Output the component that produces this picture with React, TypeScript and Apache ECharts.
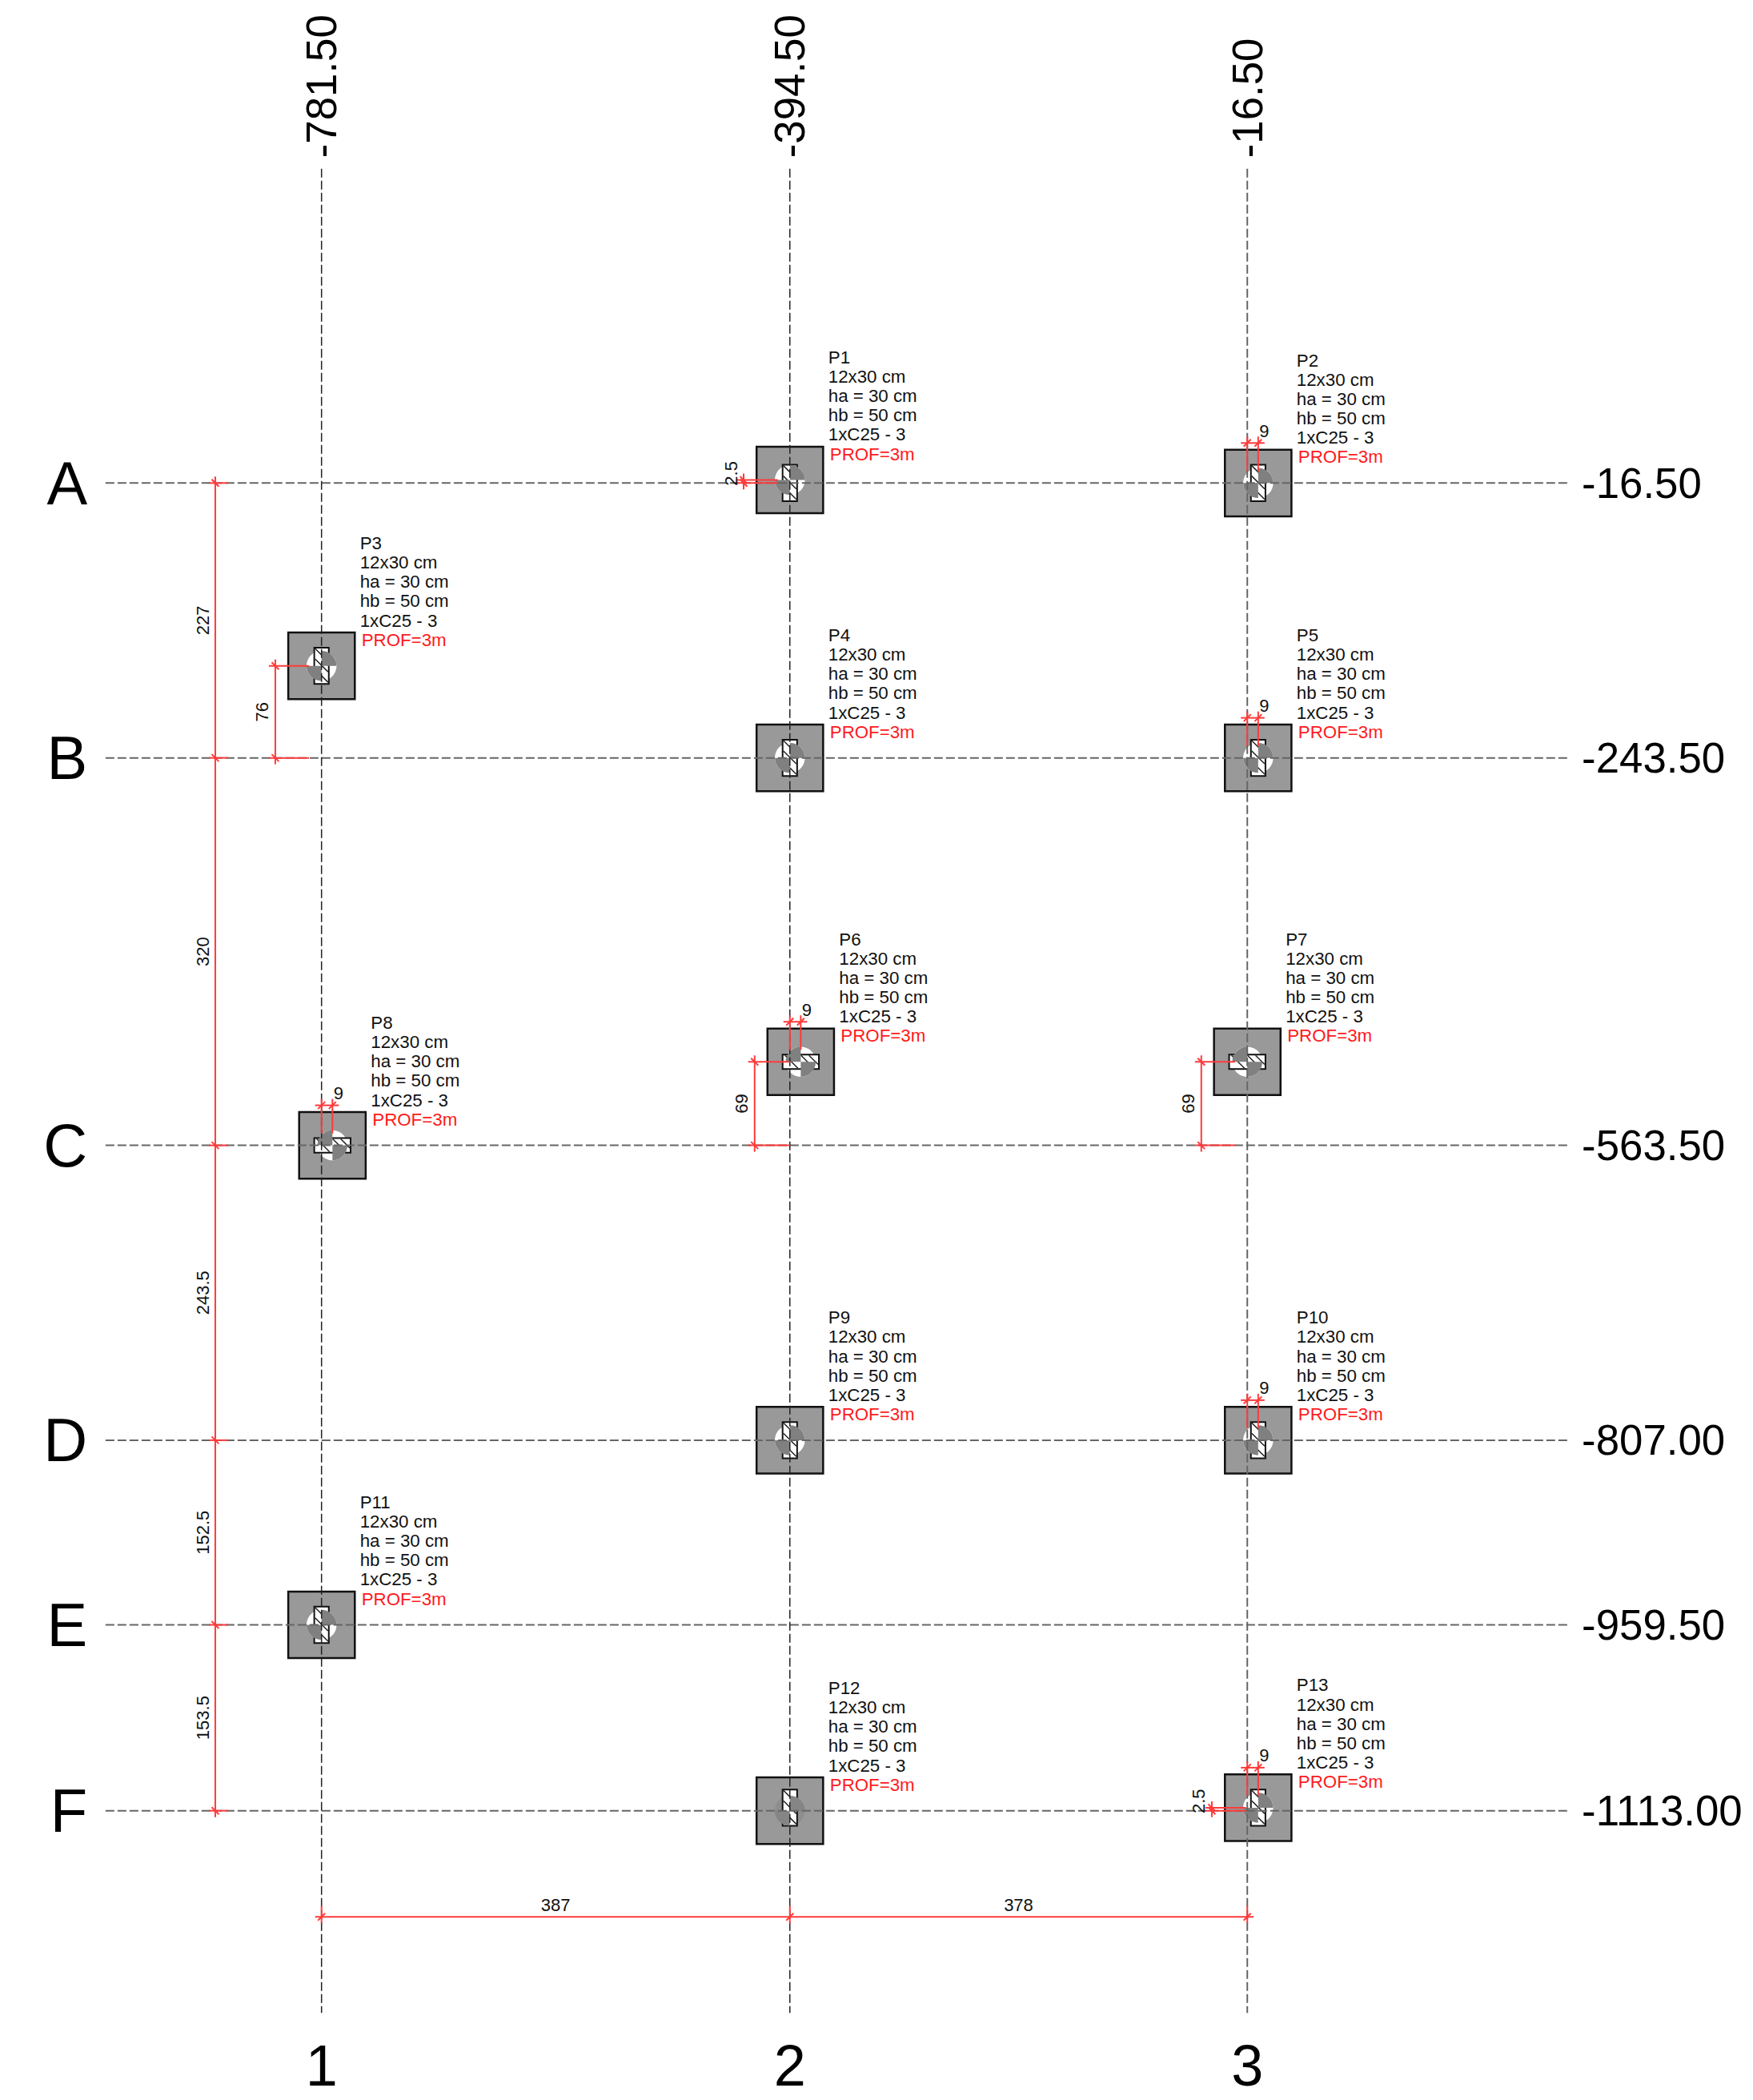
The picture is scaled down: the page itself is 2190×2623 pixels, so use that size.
import React, { useEffect, useRef } from "react";
import * as echarts from "echarts";

// Plan axes (cm)
const xMin = -1047.2, xMax = 401.4, yMin = -1351.9, yMax = 382.4;
const gridXValues = [-781.5, -394.5, -16.5];
const gridYValues = [-16.5, -243.5, -563.5, -807, -959.5, -1113];
const columnNames = ["1", "2", "3"];
const rowNames = ["A", "B", "C", "D", "E", "F"];
const topLabels = ["-781.50", "-394.50", "-16.50"];
const rightLabels = ["-16.50", "-243.50", "-563.50", "-807.00", "-959.50", "-1113.00"];
const lineXFrom = -960, lineXTo = 249.3, lineYFrom = 243, lineYTo = -1280;

// Footings
const footNames = ["P1", "P2", "P3", "P4", "P5", "P6", "P7", "P8", "P9", "P10", "P11", "P12", "P13"];
const footX = [-394.5, -7.5, -781.5, -394.5, -7.5, -385.5, -16.5, -772.5, -394.5, -7.5, -781.5, -394.5, -7.5];
const footY = [-14, -16.5, -167.5, -243.5, -243.5, -494.5, -494.5, -563.5, -807, -807, -959.5, -1113, -1110.5];
const colY = [-16.5, -16.5, -167.5, -243.5, -243.5, -494.5, -494.5, -563.5, -807, -807, -959.5, -1110.5, -1110.5];
const horizontalCol = [false, false, false, false, false, true, true, true, false, false, false, false, false];
const filledCircle = [false, false, false, false, false, false, false, false, false, false, false, true, false];
const footSize = 55, colShort = 12, colLong = 30, holeRadius = 12.4;
const noteLines = ["12x30 cm", "ha = 30 cm", "hb = 50 cm", "1xC25 - 3"];
const noteDepth = "PROF=3m";

// Dimension chains
const chainX = -869.3;
const chainYLabels = ["227", "320", "243.5", "152.5", "153.5"];
const chainY = -1200.7;
const chainXLabels = ["387", "378"];

// Offset dimensions: 9 cm in X
const nineIdx = [1, 4, 5, 7, 9, 12];
const nineFrom = [-16.5, -16.5, -394.5, -781.5, -16.5, -16.5];
const nineLabel = "9";

// Offset dimensions in Y
const riseX = [-819.7, -423.6, -54.5, -432.7, -45.8];
const riseLow = [-243.5, -563.5, -563.5, -16.5, -1113];
const riseHigh = [-167.5, -494.5, -494.5, -14, -1110.5];
const riseExt = [-791.9, -394.5, -26.6, -404.5, -17.6];
const riseLabels = ["76", "69", "69", "2.5", "2.5"];

const FONT = "Liberation Sans";
const RED = "#ff3a3a";

const txt = (text: string, x: number, y: number, size: number, fill: string, align: string, rotation = 0) => ({
  type: "text",
  x,
  y,
  rotation,
  style: { text, x: 0, y: 0, fontSize: size, fontFamily: FONT, fill, align, verticalAlign: "middle" },
});
const seg = (x1: number, y1: number, x2: number, y2: number, stroke: string, lineWidth: number, lineDash?: number[]) => ({
  type: "line",
  shape: { x1, y1, x2, y2 },
  style: { stroke, lineWidth, lineDash, fill: null },
});
const redSeg = (x1: number, y1: number, x2: number, y2: number) => seg(x1, y1, x2, y2, RED, 2);

function App() {
  const ref = useRef<HTMLDivElement>(null);
  useEffect(() => {
    const chart = echarts.init(ref.current!, undefined, { renderer: "svg" });

    const footSeries = {
      type: "custom",
      clip: false,
      silent: true,
      z: 2,
      data: footX.map((x, i) => [x, footY[i]]),
      encode: { x: 0, y: 1 },
      renderItem: (params: any, api: any) => {
        const i = params.dataIndex;
        const [cx, cy] = api.coord([footX[i], footY[i]]);
        const [, colCy] = api.coord([footX[i], colY[i]]);
        const [fw, fh] = api.size([footSize, footSize]);
        const horiz = horizontalCol[i];
        const [cw, ch] = api.size(horiz ? [colLong, colShort] : [colShort, colLong]);
        const [r] = api.size([holeRadius * 2, 0]);
        const rad = r / 2;
        const left = cx - cw / 2, top = colCy - ch / 2;
        const children: any[] = [
          { type: "rect", shape: { x: cx - fw / 2, y: cy - fh / 2, width: fw, height: fh }, style: { fill: "#999999", stroke: "#111111", lineWidth: 2.5 } },
          { type: "circle", shape: { cx, cy, r: rad }, style: { fill: filledCircle[i] ? "#8e8e8e" : "#ffffff" } },
          { type: "rect", shape: { x: left, y: top, width: cw, height: ch }, style: { fill: "#ffffff", stroke: "#111111", lineWidth: 2 } },
        ];
        if (horiz) {
          [3, 23, 33].forEach((d) => children.push(seg(left + d, top + 1, left + Math.min(d + ch - 2, cw - 1), top + Math.min(ch - 1, cw - d), "#222222", 1.5)));
        } else {
          [1, 14, 27].forEach((d) => children.push(seg(left + 1, top + d, left + cw - 1, top + d + cw - 2, "#222222", 1.5)));
        }
        const dark = filledCircle[i] ? "#858585" : "#808080";
        const starts = horiz ? [Math.PI, 0] : [-Math.PI / 2, Math.PI / 2];
        starts.forEach((s) =>
          children.push({
            type: "sector",
            shape: { cx, cy, r: rad, r0: 0, startAngle: s, endAngle: s + Math.PI / 2, clockwise: true },
            style: { fill: dark },
          })
        );
        const tx = cx + 48;
        const base = cy - 153;
        children.push(txt(footNames[i], tx, base, 22.3, "#111111", "left"));
        noteLines.forEach((t, k) => children.push(txt(t, tx, base + 24.1 * (k + 1), 22.3, "#111111", "left")));
        children.push(txt(noteDepth, tx + 2, base + 24.1 * 5, 22.3, "#ff1a1a", "left"));
        return { type: "group", children };
      },
    };

    const axisLineSeries = {
      type: "custom",
      clip: false,
      silent: true,
      z: 3,
      data: [[0, 0]],
      renderItem: (_: any, api: any) => {
        const children: any[] = [];
        gridYValues.forEach((y, i) => {
          const [x1, py] = api.coord([lineXFrom, y]);
          const [x2] = api.coord([lineXTo, y]);
          children.push(seg(x1, py, x2, py, "#666666", 2, [11, 4]));
          const [lx] = api.coord([-975, y]);
          children.push(txt(rowNames[i], lx, py, 76, "#000000", "right"));
          const [rx] = api.coord([259.9, y]);
          children.push(txt(rightLabels[i], rx, py, 52.8, "#000000", "left"));
        });
        gridXValues.forEach((x, i) => {
          const [px, y1] = api.coord([x, lineYFrom]);
          const [, y2] = api.coord([x, lineYTo]);
          children.push(i === 2 ? seg(px, y1, px, y2, "#666666", 2, [11, 4]) : seg(px, y1, px, y2, "#222222", 1.5, [11, 4]));
          const [, ly] = api.coord([x, -1323.5]);
          children.push(txt(columnNames[i], px, ly, 72, "#000000", "center"));
          const [, ty] = api.coord([x, 252]);
          children.push(txt(topLabels[i], px, ty, 52.8, "#000000", "left", Math.PI / 2));
        });
        return { type: "group", children };
      },
    };

    const dimSeries = {
      type: "custom",
      clip: false,
      silent: true,
      z: 4,
      data: [[0, 0]],
      renderItem: (_: any, api: any) => {
        const children: any[] = [];
        const tickV = (px: number, py: number) => seg(px - 4.5, py - 4.5, px + 4.5, py + 4.5, RED, 2);
        const tickH = (px: number, py: number) => seg(px - 4.5, py + 4.5, px + 4.5, py - 4.5, RED, 2);

        // Left chain
        const [cxPx] = api.coord([chainX, 0]);
        const chainTop = api.coord([chainX, gridYValues[0]])[1];
        const chainBottom = api.coord([chainX, gridYValues[5]])[1];
        children.push(redSeg(cxPx, chainTop - 8, cxPx, chainBottom + 8));
        gridYValues.forEach((y, i) => {
          const py = api.coord([chainX, y])[1];
          children.push(tickV(cxPx, py), redSeg(cxPx - 8, py, cxPx + 16, py));
          if (i < chainYLabels.length) {
            const next = api.coord([chainX, gridYValues[i + 1]])[1];
            children.push(txt(chainYLabels[i], cxPx - 15.5, (py + next) / 2, 22, "#111111", "center", Math.PI / 2));
          }
        });

        // Bottom chain
        const cy = api.coord([0, chainY])[1];
        const chainLeft = api.coord([gridXValues[0], chainY])[0];
        const chainRight = api.coord([gridXValues[2], chainY])[0];
        children.push(redSeg(chainLeft - 8, cy, chainRight + 8, cy));
        gridXValues.forEach((x, i) => {
          const px = api.coord([x, chainY])[0];
          children.push(tickH(px, cy), redSeg(px, cy - 14, px, cy + 8));
          if (i < chainXLabels.length) {
            const next = api.coord([gridXValues[i + 1], chainY])[0];
            children.push(txt(chainXLabels[i], (px + next) / 2, cy - 15, 22, "#111111", "center"));
          }
        });

        // 9 cm offsets
        nineIdx.forEach((f, k) => {
          const [x1, fy] = api.coord([nineFrom[k], footY[f]]);
          const [x2] = api.coord([footX[f], footY[f]]);
          const dy = fy - 50;
          children.push(redSeg(x1 - 8, dy, x2 + 8, dy), tickH(x1, dy), tickH(x2, dy));
          children.push(redSeg(x1, dy - 8, x1, fy - 15), redSeg(x2, dy - 8, x2, fy - 15));
          children.push(txt(nineLabel, x2 + 7.5, dy - 15, 22, "#111111", "center"));
        });

        // Y offsets
        riseX.forEach((x, k) => {
          const [px, low] = api.coord([x, riseLow[k]]);
          const high = api.coord([x, riseHigh[k]])[1];
          const ext = api.coord([riseExt[k], 0])[0];
          children.push(redSeg(px, high - 8, px, low + 8), tickV(px, low), tickV(px, high));
          children.push(redSeg(px - 8, low, ext, low), redSeg(px - 8, high, ext, high));
          const small = low - high < 10;
          children.push(txt(riseLabels[k], px - 16, (low + high) / 2 - (small ? 10 : 0), 22, "#111111", "center", Math.PI / 2));
        });
        return { type: "group", children };
      },
    };

    chart.setOption({
      animation: false,
      backgroundColor: "#ffffff",
      grid: { left: 0, right: 0, top: 0, bottom: 0 },
      xAxis: { type: "value", min: xMin, max: xMax, show: false },
      yAxis: { type: "value", min: yMin, max: yMax, show: false },
      series: [footSeries, axisLineSeries, dimSeries],
    });
    return () => chart.dispose();
  }, []);
  return <div ref={ref} style={{ position: "absolute", left: 0, top: 0, width: 2190, height: 2623 }} />;
}

export default App;
